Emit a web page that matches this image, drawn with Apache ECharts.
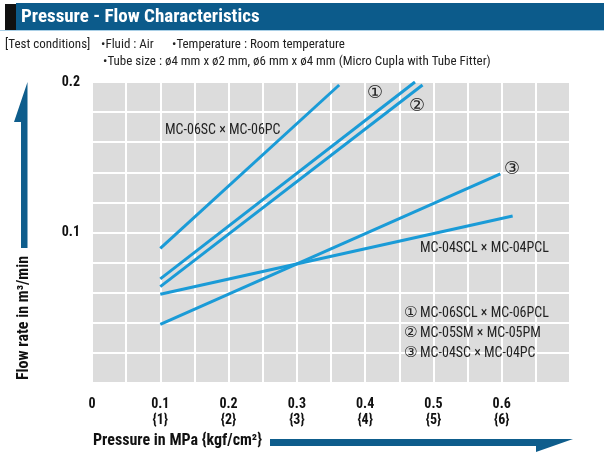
<!DOCTYPE html>
<html><head><meta charset="utf-8">
<script src="https://cdn.jsdelivr.net/npm/echarts@6/dist/echarts.min.js"></script>
<style>html,body{margin:0;padding:0;background:#fff}#c{width:604px;height:452px}</style>
</head><body><div id="c"></div>
<script>
// Data (pressure MPa, flow m3/min)
const seriesNames = ['MC-06SC × MC-06PC', '① MC-06SCL × MC-06PCL', '② MC-05SM × MC-05PM', '③ MC-04SC × MC-04PC', 'MC-04SCL × MC-04PCL'];
const s06sc = [[0.1, 0.0895], [0.362, 0.198]];
const s06scl = [[0.1, 0.0692], [0.473, 0.2]];
const s05sm = [[0.1, 0.064], [0.484, 0.198]];
const s04sc = [[0.1, 0.039], [0.598, 0.139]];
const s04scl = [[0.1, 0.059], [0.616, 0.111]];
const xTickLabels = {'0': '0', '0.1': '0.1\n{1}', '0.2': '0.2\n{2}', '0.3': '0.3\n{3}', '0.4': '0.4\n{4}', '0.5': '0.5\n{5}', '0.6': '0.6\n{6}'};
const yTickLabels = {'0.1': '0.1', '0.2': '0.2'};

const FONT = "'Liberation Sans Narrow', 'Roboto Condensed', 'Liberation Sans', Arial, sans-serif";
const CIRC = "'DejaVu Sans', 'Noto Sans CJK JP', sans-serif";
const chart = echarts.init(document.getElementById('c'));
const lineColor = '#1a9bd7';
const mk = (name, data) => ({
  name, type: 'line', data, symbol: 'none', silent: true,
  lineStyle: { color: lineColor, width: 3 }
});
const txt = (x, y, text, size, extra) => ({
  type: 'text', x, y, silent: true, z: 100,
  style: Object.assign({ text, font: `${size}px ${FONT}`, fill: '#222', textVerticalAlign: 'middle' }, extra || {})
});
const legendRow = (x, y, circ, text) => ({
  type: 'group', x, y, z: 100, silent: true,
  children: [
    { type: 'text', x: 0, y: 0, z: 100, style: { text: circ, font: `15px ${CIRC}`, fill: '#222', textVerticalAlign: 'middle' } },
    { type: 'text', x: 16, y: 0, z: 100, style: { text, font: `14px ${FONT}`, fill: '#222', textVerticalAlign: 'middle' } }
  ]
});
chart.setOption({
  animation: false,
  backgroundColor: '#fff',
  grid: { left: 92, top: 82, width: 478, height: 301, show: true, backgroundColor: '#dcdcdc', borderWidth: 0 },
  xAxis: {
    type: 'value', min: 0, max: 0.7, interval: 0.05,
    axisLine: { show: false }, axisTick: { show: false },
    splitLine: { lineStyle: { color: '#ffffff', width: 2 } },
    axisLabel: {
      margin: 13, lineHeight: 16, color: '#111', fontWeight: 'bold', fontSize: 14, fontFamily: FONT,
      formatter: v => { const k = String(Math.round(v * 100) / 100); return xTickLabels[k] || ''; }
    }
  },
  yAxis: {
    type: 'value', min: 0, max: 0.2, interval: 0.02,
    axisLine: { show: false }, axisTick: { show: false },
    splitLine: { lineStyle: { color: '#ffffff', width: 2 } },
    axisLabel: {
      margin: 12, color: '#111', fontWeight: 'bold', fontSize: 14, fontFamily: FONT,
      formatter: v => { const k = String(Math.round(v * 100) / 100); return yTickLabels[k] || ''; }
    }
  },
  series: [mk(seriesNames[0], s06sc), mk(seriesNames[1], s06scl), mk(seriesNames[2], s05sm), mk(seriesNames[3], s04sc), mk(seriesNames[4], s04scl)],
  graphic: [
    { type: 'rect', z: 100, shape: { x: 16, y: 3, width: 588, height: 27 }, style: { fill: '#0c5b8b' }, silent: true },
    { type: 'rect', z: 100, shape: { x: 5, y: 4, width: 11, height: 26 }, style: { fill: '#111' }, silent: true },
    { type: 'rect', z: 100, shape: { x: 0, y: 30, width: 604, height: 1 }, style: { fill: '#a9cfe6' }, silent: true },
    txt(21, 17, 'Pressure - Flow Characteristics', 19, { fill: '#fff', font: `bold 19px ${FONT}` }),
    txt(5, 45, '[Test conditions]', 13),
    txt(101, 45, '•Fluid : Air', 13),
    txt(172, 45, '•Temperature : Room temperature', 13),
    txt(103, 62, '•Tube size : ø4 mm x ø2 mm, ø6 mm x ø4 mm (Micro Cupla with Tube Fitter)', 13),
    // y title & arrow
    { type: 'polygon', z: 100, shape: { points: [[14, 122], [27.5, 82], [27.5, 248], [21, 248], [21, 122]] }, style: { fill: '#0e5d8c' }, silent: true },
    { type: 'text', z: 100, x: 24, y: 318, rotation: Math.PI / 2, silent: true,
      style: { text: 'Flow rate in m³/min', font: `bold 16px ${FONT}`, fill: '#111', textAlign: 'center', textVerticalAlign: 'middle' } },
    // x title & arrow
    txt(93, 441, 'Pressure in MPa {kgf/cm²}', 16, { font: `bold 16px ${FONT}`, fill: '#111' }),
    { type: 'polygon', z: 100, shape: { points: [[270, 439], [573, 439], [536, 452], [536, 446], [270, 446]] }, style: { fill: '#0e5d8c' }, silent: true },
    // annotations
    txt(165, 130, 'MC-06SC × MC-06PC', 14),
    txt(420, 248, 'MC-04SCL × MC-04PCL', 14),
    txt(367, 93, '①', 18, { font: `18px ${CIRC}` }),
    txt(409, 106, '②', 18, { font: `18px ${CIRC}` }),
    txt(504, 169, '③', 18, { font: `18px ${CIRC}` }),
    legendRow(404, 313, '①', 'MC-06SCL × MC-06PCL'),
    legendRow(404, 333, '②', 'MC-05SM × MC-05PM'),
    legendRow(404, 353, '③', 'MC-04SC × MC-04PC')
  ]
});
</script></body></html>
